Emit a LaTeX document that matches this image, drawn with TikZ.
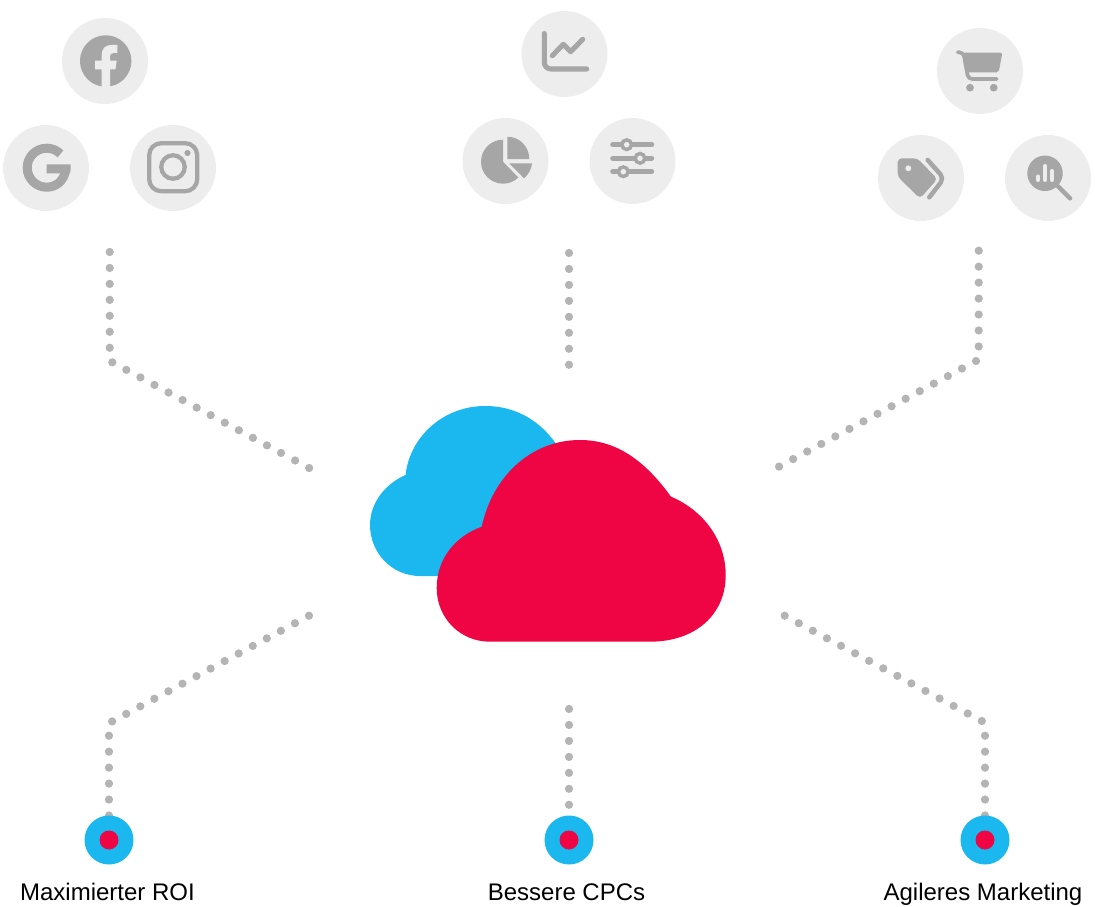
\documentclass[tikz,border=0pt]{standalone}
\usepackage{fontspec}
\setmainfont{Liberation Sans}
\definecolor{bgc}{HTML}{EDEDED}
\definecolor{ico}{HTML}{A6A6A6}
\definecolor{dotc}{HTML}{B4B4B4}
\definecolor{bluec}{HTML}{1AB8EF}
\definecolor{redc}{HTML}{EF0444}
\tikzset{
  iconbg/.style={circle,fill=bgc,draw=none,inner sep=0pt,minimum size=64.5pt},
  outerdot/.style={circle,fill=bluec,draw=none,inner sep=0pt,minimum size=36.75pt},
  innerdot/.style={circle,fill=redc,draw=none,inner sep=0pt,minimum size=14.25pt},
  dotline/.style={draw=dotc,line width=6.2pt,line cap=round,dash pattern=on 0pt off 11.97pt},
  icostroke/.style={draw=ico,line cap=round,line join=round,fill=none},
  lab/.style={inner sep=0pt,font=\fontsize{18pt}{20pt}\selectfont,text=black}
}
\begin{document}
\begin{tikzpicture}[x=0.75pt,y=-0.75pt]
\useasboundingbox (0,0) rectangle (1095,906);
% connectors
\coordinate (ltA) at (109.7,252); \coordinate (ltB) at (109.7,348);
\coordinate (ltC) at (112.3,362.3); \coordinate (ltD) at (309.7,468.3);
\coordinate (ctA) at (569,253); \coordinate (ctB) at (569,365);
\coordinate (rtA) at (978.7,250.7); \coordinate (rtB) at (978.7,346.7);
\coordinate (rtC) at (976,361); \coordinate (rtD) at (778.3,467);
\coordinate (lbA) at (309,615.7); \coordinate (lbB) at (111.7,721.7);
\coordinate (lbC) at (109,735.7); \coordinate (lbD) at (109,815.7);
\coordinate (cbA) at (569,709); \coordinate (cbB) at (569,805);
\coordinate (rbA) at (784.7,615.7); \coordinate (rbB) at (982.3,721.3);
\coordinate (rbC) at (985,735.7); \coordinate (rbD) at (985,815.7);
\draw[dotline] (ltA) -- (ltB);
\draw[dotline] (ltC) -- (ltD);
\draw[dotline] (ctA) -- (ctB);
\draw[dotline] (rtA) -- (rtB);
\draw[dotline] (rtC) -- (rtD);
\draw[dotline] (lbA) -- (lbB);
\draw[dotline] (lbC) -- (lbD);
\draw[dotline] (cbA) -- (cbB);
\draw[dotline] (rbA) -- (rbB);
\draw[dotline] (rbC) -- (rbD);
% icon backgrounds
\node[iconbg] (fb) at (105,61) {};
\node[iconbg] (goog) at (46,168) {};
\node[iconbg] (insta) at (173,168) {};
\node[iconbg] (chart) at (564.5,54) {};
\node[iconbg] (pie) at (505.5,161) {};
\node[iconbg] (slid) at (632.5,161) {};
\node[iconbg] (cart) at (980,71) {};
\node[iconbg] (tag) at (921,178) {};
\node[iconbg] (search) at (1048,178) {};
% facebook
\fill[ico] (105.7,61) circle[radius=19.3pt];
\fill[bgc] (101.7,87.5) -- (101.7,69.3) -- (95,69.3) -- (95,60.7) -- (101.7,60.7) -- (101.7,55)
  .. controls (101.7,49) and (105,45) .. (111,45) -- (117.3,45) -- (117.3,53) -- (113.5,53)
  .. controls (111,53) and (110,54.5) .. (110,56.5) -- (110,60.7) -- (116.7,60.7) -- (115.5,69.3) -- (110,69.3) -- (110,87.5) -- cycle;
% google
\draw[ico,line width=6.75pt,fill=none] (60.5,153.9) .. controls (56.84,150.24) and (51.87,148.2) .. (46.7,148.2)
  .. controls (35.93,148.2) and (27.2,156.93) .. (27.2,167.7)
  .. controls (27.2,178.47) and (35.93,187.2) .. (46.7,187.2)
  .. controls (56,187.2) and (63.5,181) .. (65.5,171);
\fill[ico] (46.7,164.3) -- (70.5,164.3) .. controls (71,168) and (70.8,171) .. (70,173.3) -- (46.7,173.3) -- cycle;
% instagram
\draw[ico,line width=3.2pt,rounded corners=9pt] (149.2,143.2) rectangle (197.2,191.2);
\draw[ico,line width=3.2pt] (173,167) circle[radius=8.8pt];
\fill[ico] (187.5,153) circle[radius=2.3pt];
% chart
\draw[icostroke,line width=3.8pt,rounded corners=5pt] (544.3,33.5) -- (544.3,69) -- (586.7,69);
\draw[icostroke,line width=3.8pt] (552.3,55.7) -- (563.3,44.3) -- (570.7,51.7) -- (582.7,39.3);
% pie
\fill[ico] (503,161.7) -- (503,139.7) .. controls (490.85,139.7) and (481,149.55) .. (481,161.7)
  .. controls (481,173.85) and (490.85,183.7) .. (503,183.7) .. controls (508.8,183.7) and (514.3,181.5) .. (518.3,177.5) -- cycle;
\fill[ico] (507.3,159) -- (507.3,136.7) .. controls (519.6,136.7) and (529.3,146.7) .. (529.3,159) -- cycle;
\fill[ico] (509.3,163.3) -- (532,163.3) .. controls (531.5,169) and (528.5,174.5) .. (524,178.3) -- cycle;
% sliders
\draw[icostroke,line width=3.75pt] (612.7,144.7) -- (651.7,144.7);
\draw[icostroke,line width=3.75pt] (612.7,158.3) -- (651.7,158.3);
\draw[icostroke,line width=3.75pt] (612.7,171.7) -- (651.7,171.7);
\draw[ico,fill=bgc,line width=2.6pt] (626.7,144.7) circle[radius=3.6pt];
\draw[ico,fill=bgc,line width=2.6pt] (640,158.3) circle[radius=3.6pt];
\draw[ico,fill=bgc,line width=2.6pt] (623.3,171.7) circle[radius=3.6pt];
% cart
\draw[icostroke,line width=2.8pt,rounded corners=3pt] (957.7,52.3) -- (963.3,52.3) -- (968.3,79) -- (996.7,79);
\fill[ico,rounded corners=1.5pt] (963.3,52.7) -- (1002.3,52.7) -- (998.7,72.3) -- (966.7,72.3) -- cycle;
\fill[ico] (970,87.7) circle[radius=2.9pt];
\fill[ico] (993.7,87.7) circle[radius=2.9pt];
% tag
\fill[ico,rounded corners=3pt] (897.7,158.3) -- (917.3,158.3) -- (937.5,179) -- (920,198.5) -- (897.7,176.7) -- cycle;
\fill[bgc] (908.3,168.3) circle[radius=2.2pt];
\draw[icostroke,line width=3.4pt,rounded corners=4pt] (927.7,160) -- (944,178.3) -- (929.3,197.3);
% search
\fill[ico] (1045,173.3) circle[radius=13.3pt];
\draw[bgc,line width=3pt,line cap=round] (1038.3,176.5) -- (1038.3,180);
\draw[bgc,line width=3pt,line cap=round] (1045.3,166) -- (1045.3,180);
\draw[bgc,line width=3pt,line cap=round] (1052.3,171) -- (1052.3,180);
\draw[icostroke,line width=3.4pt] (1058,186.3) -- (1070,198.3);
% clouds
\fill[bluec] (420,576) .. controls (392,576) and (370,553) .. (370,525)
  .. controls (370,503) and (385,484) .. (405.5,475)
  .. controls (410,436) and (444,406) .. (485,406)
  .. controls (520,406) and (545,425) .. (560,450) -- (560,576) -- cycle;
\fill[redc] (490,641.7) .. controls (460,641.7) and (436.7,618) .. (436.7,588)
  .. controls (436.7,558) and (456,536) .. (481.7,526.7)
  .. controls (493,475) and (532,440) .. (580,440)
  .. controls (620,440) and (648,465) .. (671,496.7)
  .. controls (703,510) and (725.7,540) .. (725.7,575)
  .. controls (725.7,615) and (695,641.7) .. (650,641.7) -- cycle;
% targets
\node[outerdot] (tl) at (109,840) {};
\node[innerdot] (tli) at (109,840) {};
\node[outerdot] (tc) at (569,840) {};
\node[innerdot] (tci) at (569,840) {};
\node[outerdot] (tr) at (985,840) {};
\node[innerdot] (tri) at (985,840) {};
% labels
\node[lab,anchor=base] (l1) at (107.5,900) {Maximierter ROI};
\node[lab,anchor=base] (l2) at (566.5,900) {Bessere CPCs};
\node[lab,anchor=base] (l3) at (983,900) {Agileres Marketing};
\end{tikzpicture}
\end{document}
